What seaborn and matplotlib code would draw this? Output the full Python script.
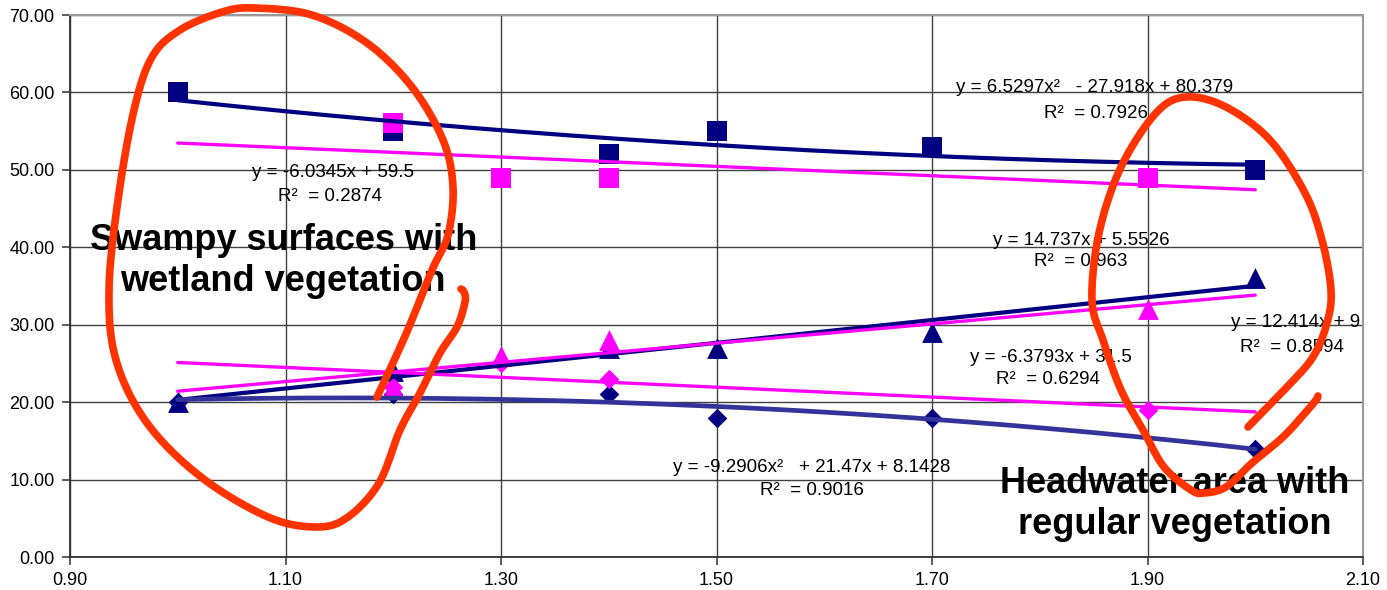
import numpy as np
import pandas as pd
import matplotlib
matplotlib.use("Agg")
import matplotlib.pyplot as plt
import seaborn as sns

# ---------------- data ----------------
x_navy = [1.0, 1.2, 1.4, 1.5, 1.7, 2.0]
x_magenta = [1.2, 1.3, 1.4, 1.9]

navy_squares = [60, 55, 52, 55, 53, 50]
navy_triangles = [20, 24, 27, 27, 29, 36]
navy_diamonds = [20, 21, 21, 18, 18, 14]

magenta_squares = [56, 49, 49, 49]
magenta_triangles = [22, 26, 28, 32]
magenta_diamonds = [22, 25, 23, 19]

# trendline coefficients as printed on the chart (highest power first)
coef_navy_squares = [6.5297, -27.918, 80.379]
coef_magenta_squares = [-6.0345, 59.5]
coef_navy_triangles = [14.737, 5.5526]
coef_magenta_triangles = [12.414, 9]
coef_navy_diamonds = [-9.2906, 21.47, 8.1428]
coef_magenta_diamonds = [-6.3793, 31.5]
trend_x_range = [1.0, 2.0]

eq_lines = ["y = -6.0345x + 59.5",
            "y = 6.5297x\u00b2   - 27.918x + 80.379",
            "y = 14.737x + 5.5526",
            "y = 12.414x + 9",
            "y = -6.3793x + 31.5",
            "y = -9.2906x\u00b2   + 21.47x + 8.1428"]
r2_lines = ["R\u00b2  = 0.2874", "R\u00b2  = 0.7926", "R\u00b2  = 0.963",
            "R\u00b2  = 0.8594", "R\u00b2  = 0.6294", "R\u00b2  = 0.9016"]

x_ticks = [0.90, 1.10, 1.30, 1.50, 1.70, 1.90, 2.10]
y_ticks = [0, 10, 20, 30, 40, 50, 60, 70]

label_left = "Swampy surfaces with\nwetland vegetation"
label_right = "Headwater area with\nregular vegetation"

# ---------------- style ----------------
NAVY = "#000080"
NAVY_LIGHT = "#333399"
MAGENTA = "#FF00FF"
RED = "#FF3300"

sns.set_style("white")
plt.rcParams["font.family"] = ["Liberation Sans", "DejaVu Sans"]

fig = plt.figure(figsize=(13.87, 5.90), dpi=100)
ax = fig.add_axes([70 / 1387, 33 / 590, 1293 / 1387, 542 / 590])

# markers
marker_specs = [
    (x_navy, navy_squares, "s", NAVY, 14.5 ** 2),
    (x_navy, navy_triangles, "^", NAVY, 15 ** 2),
    (x_navy, navy_diamonds, "D", NAVY, 10 ** 2),
    (x_magenta, magenta_squares, "s", MAGENTA, 14.5 ** 2),
    (x_magenta, magenta_triangles, "^", MAGENTA, 15 ** 2),
    (x_magenta, magenta_diamonds, "D", MAGENTA, 10 ** 2),
]
for xs, ys, mk, col, size in marker_specs:
    df = pd.DataFrame({"x": xs, "y": ys})
    sns.scatterplot(data=df, x="x", y="y", marker=mk, color=col, s=size,
                    linewidth=0, ax=ax, zorder=3, clip_on=False)

# trend lines
xt = np.linspace(trend_x_range[0], trend_x_range[1], 200)
trend_specs = [
    (coef_navy_squares, NAVY, 3.0),
    (coef_magenta_squares, MAGENTA, 2.4),
    (coef_navy_triangles, NAVY, 3.0),
    (coef_magenta_triangles, MAGENTA, 2.4),
    (coef_navy_diamonds, NAVY_LIGHT, 3.4),
    (coef_magenta_diamonds, MAGENTA, 2.4),
]
for coef, col, lw in trend_specs:
    df = pd.DataFrame({"x": xt, "y": np.polyval(coef, xt)})
    sns.lineplot(data=df, x="x", y="y", color=col, linewidth=lw, ax=ax, zorder=4)

# axes
ax.set_xlim(0.9, 2.1)
ax.set_ylim(0, 70)
ax.set_xticks(x_ticks)
ax.set_xticklabels([f"{v:.2f}" for v in x_ticks])
ax.set_yticks(y_ticks)
ax.set_yticklabels([f"{v:.2f}" for v in y_ticks])
ax.set_xlabel("")
ax.set_ylabel("")
ax.tick_params(axis="both", direction="out", length=6, width=1.2, color="#404040",
               labelsize=13, labelcolor="black")
ax.tick_params(axis="x", pad=5, bottom=True)
ax.tick_params(axis="y", pad=5, left=True)
ax.grid(True, color="#404040", linewidth=1.0)
ax.set_axisbelow(True)
for side in ["left", "bottom"]:
    ax.spines[side].set_color("#303030")
    ax.spines[side].set_linewidth(1.3)
for side in ["top", "right"]:
    ax.spines[side].set_color("#9a9a9a")
    ax.spines[side].set_linewidth(1.5)

# equation labels
eq_pos = [(1.144, 49.6, 1.141, 46.6),
          (1.851, 60.6, 1.852, 57.3),
          (1.839, 40.9, 1.838, 38.1),
          (2.037, 30.35, 2.034, 27.1),
          (1.810, 25.8, 1.808, 22.9),
          (1.588, 11.6, 1.589, 8.65)]
for eq, r2, (ex, ey, rx, ry) in zip(eq_lines, r2_lines, eq_pos):
    ax.text(ex, ey, eq, ha="center", va="center", fontsize=13.5, color="black", zorder=6)
    ax.text(rx, ry, r2, ha="center", va="center", fontsize=13.5, color="black", zorder=6)

# big labels
ax.text(1.098, 38.2, label_left, ha="center", va="center", fontsize=26,
        fontweight="bold", linespacing=1.22, color="black", zorder=7)
ax.text(1.9255, 6.9, label_right, ha="center", va="center", fontsize=26,
        fontweight="bold", linespacing=1.22, color="black", zorder=7)

# hand-drawn red outlines (reference pixel positions)
def smooth(pts, n=12):
    p = np.array(pts, float)
    p = np.vstack([p[0], p, p[-1]])
    out = []
    for i in range(1, len(p) - 2):
        p0, p1, p2, p3 = p[i - 1], p[i], p[i + 1], p[i + 2]
        for t in np.linspace(0, 1, n, endpoint=False):
            t2, t3 = t * t, t * t * t
            out.append(0.5 * ((2 * p1) + (-p0 + p2) * t + (2 * p0 - 5 * p1 + 4 * p2 - p3) * t2
                              + (-p0 + 3 * p1 - 3 * p2 + p3) * t3))
    out.append(p[-2])
    return np.array(out)

left_loop = [(377, 397), (406, 334), (432, 270), (448, 235), (453, 187), (443, 140),
             (412, 87), (367, 43), (312, 15), (254, 8), (222, 12), (180, 30),
             (152, 57), (134, 110), (118, 200), (109, 290), (116, 360), (147, 423),
             (201, 477), (268, 517), (317, 527), (348, 517), (379, 483), (400, 430),
             (420, 393), (440, 353), (457, 327), (465, 302), (464, 292), (461, 289)]
right_loop = [(1248, 427), (1287, 387), (1313, 357), (1327, 323), (1331, 290),
              (1322, 240), (1305, 193), (1270, 140), (1226, 107), (1186, 97),
              (1156, 113), (1121, 167), (1099, 233), (1092, 300), (1103, 340),
              (1121, 390), (1143, 430), (1164, 467), (1191, 490), (1204, 493),
              (1226, 487), (1252, 463), (1283, 437), (1305, 413), (1316, 400),
              (1318, 396)]
for loop in (left_loop, right_loop):
    s = smooth(loop)
    fig.add_artist(plt.Line2D(s[:, 0] / 1387, 1 - s[:, 1] / 590, transform=fig.transFigure,
                              color=RED, linewidth=5.5, solid_capstyle="round",
                              solid_joinstyle="round", zorder=10))

fig.savefig("out.png", dpi=100)
